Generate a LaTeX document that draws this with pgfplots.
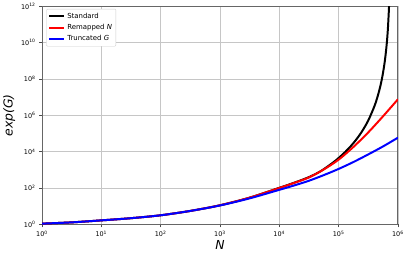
\documentclass[border=0pt]{standalone}
\usepackage{fontspec}
\setmainfont{DejaVu Sans}
\usepackage{pgfplots}
\pgfplotsset{compat=1.18}
\begin{document}
\begin{tikzpicture}
\begin{axis}[
  scale only axis,
  width=359pt, height=220pt,
  xmode=log, ymode=log,
  xmin=1, xmax=1e6, ymin=1, ymax=1e12,
  log basis x=10, log basis y=10,
  xtick={1,10,100,1000,10000,100000,1000000},
  xticklabels={10\textsuperscript{0},10\textsuperscript{1},10\textsuperscript{2},10\textsuperscript{3},10\textsuperscript{4},10\textsuperscript{5},10\textsuperscript{6}},
  ytick={1,1e2,1e4,1e6,1e8,1e10,1e12},
  yticklabels={10\textsuperscript{0},10\textsuperscript{2},10\textsuperscript{4},10\textsuperscript{6},10\textsuperscript{8},10\textsuperscript{10},10\textsuperscript{12}},
  yminorticks=false,
  ticklabel style={font=\fontsize{6.5}{7}\selectfont},
  tick align=outside, tick pos=left,
  major tick length=3pt, minor tick length=1.8pt,
  tick style={black!70, line width=0.5pt},
  grid=major,
  major grid style={gray!45, line width=0.6pt},
  axis line style={gray!80!black, line width=0.9pt},
  xlabel={\itshape N}, ylabel={\itshape exp(G)},
  label style={font=\fontsize{12.5}{13}\selectfont},
  xlabel style={yshift=3pt},
  ylabel style={yshift=-1pt},
  legend cell align=left,
  legend style={font=\fontsize{7}{8.5}\selectfont, draw=gray!40, rounded corners=1pt, inner sep=2pt, row sep=0.5pt, at={(0.012,0.988)}, anchor=north west},
  legend image code/.code={\draw[#1] (0pt,0pt) -- (15pt,0pt);},
]
\addplot[black, line width=2pt, smooth] coordinates {
(1,1.096) (3.162,1.288) (10,1.66) (31.62,2.188) (100,3.162) (316.2,5.495) (1000,11.22) (3162,29.51) (10000,102.3)
(17783,195) (31623,398.1) (50119,851.1) (79433,2432) (100000,4467) (125893,8851) (158489,19275) (199526,47424)
(251189,138676) (316228,5.2e5) (398107,2.938e6) (446684,8.933e6) (501187,3.581e7) (549541,1.489e8)
(602560,1e9) (645654,7.534e9) (676083,5.07e10) (707946,9.12e11) (724436,9.12e12)
};
\addlegendentry{Standard}
\addplot[red, line width=2pt, smooth] coordinates {
(1,1.096) (3.162,1.288) (10,1.66) (31.62,2.188) (100,3.162) (316.2,5.495) (1000,11.22) (3162,29.51) (10000,100)
(17783,190.5) (31623,380.2) (56234,1047) (100000,3631) (177828,18197) (316228,114815) (562341,891251) (1000000,7.586e6)
};
\addlegendentry{Remapped \textit{N}}
\addplot[blue, line width=2pt, smooth] coordinates {
(1,1.096) (3.162,1.288) (10,1.66) (31.62,2.188) (100,3.162) (316.2,5.495) (1000,10.96) (3162,26.92) (10000,79.43)
(17783,138) (31623,251.2) (56234,512.9) (100000,1122) (177828,2692) (316228,7079) (562341,19498) (1000000,58884)
};
\addlegendentry{Truncated \textit{G}}
\end{axis}
\end{tikzpicture}
\end{document}
